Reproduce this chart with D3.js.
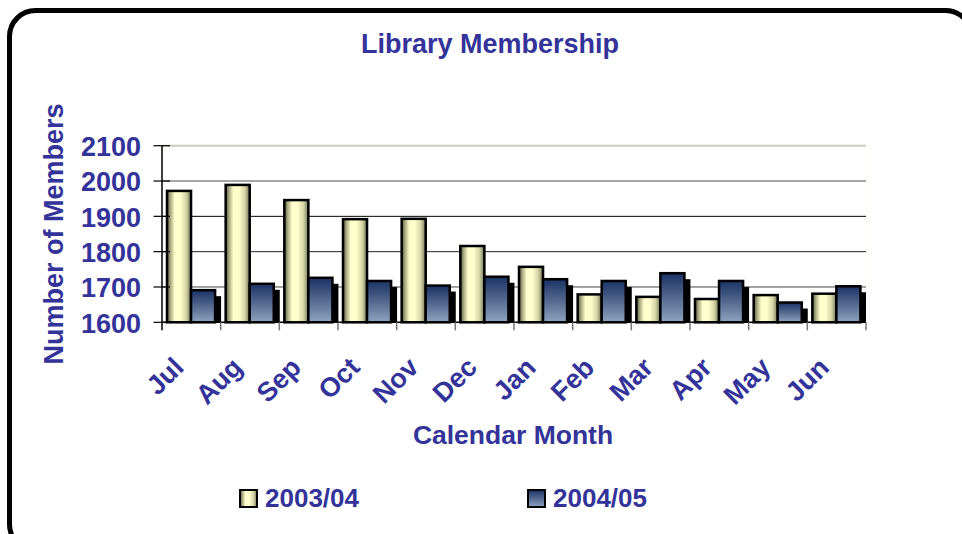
<!DOCTYPE html>
<html>
<head>
<meta charset="utf-8">
<script src="https://cdn.jsdelivr.net/npm/d3@7"></script>
<style>
  html, body { margin: 0; padding: 0; background: #fff; }
  svg { display: block; }
  text { font-family: "Liberation Sans", Arial, sans-serif; font-weight: bold; fill: #333399; }
</style>
</head>
<body>
<svg id="chart" width="962" height="534"></svg>
<script>
// ---- data ----
const months = ["Jul","Aug","Sep","Oct","Nov","Dec","Jan","Feb","Mar","Apr","May","Jun"];
const series2003 = [1972, 1989, 1946, 1892, 1893, 1816, 1757, 1679, 1672, 1666, 1677, 1681];
const series2004 = [1691, 1709, 1726, 1717, 1704, 1729, 1722, 1717, 1739, 1717, 1656, 1702];
const seriesNames = ["2003/04", "2004/05"];
const yTicks = [1600, 1700, 1800, 1900, 2000, 2100];
const titleText = "Library Membership";
const xTitle = "Calendar Month";
const yTitle = "Number of Members";

const svg = d3.select("#chart");

// outer rounded border
svg.append("rect")
  .attr("x", 9.5).attr("y", 10.5)
  .attr("width", 962).attr("height", 540)
  .attr("rx", 26).attr("ry", 26)
  .attr("fill", "#fff").attr("stroke", "#000").attr("stroke-width", 5);

// gradients
const defs = svg.append("defs");
const gY = defs.append("linearGradient").attr("id", "gradYellow")
  .attr("x1", "0%").attr("x2", "100%").attr("y1", "0%").attr("y2", "0%");
[[0, "#4f4f36"], [0.12, "#9e9e78"], [0.32, "#ffffcc"], [0.55, "#ffffcc"], [0.8, "#d4d4a6"], [1, "#737356"]]
  .forEach(([o, c]) => gY.append("stop").attr("offset", o).attr("stop-color", c));
const gB = defs.append("linearGradient").attr("id", "gradBlue")
  .attr("x1", "0%").attr("x2", "0%").attr("y1", "0%").attr("y2", "100%");
[[0, "#1a3266"], [0.5, "#54698f"], [1, "#8ea4bf"]]
  .forEach(([o, c]) => gB.append("stop").attr("offset", o).attr("stop-color", c));

// scales
const plotL = 162, plotR = 866, plotT = 145.7, plotB = 322.3;
const x = d3.scaleBand().domain(months).range([plotL, plotR]).paddingInner(0).paddingOuter(0);
const y = d3.scaleLinear().domain([1600, 2100]).range([plotB, plotT]);

// plot area right border (faint)
svg.append("line").attr("x1", plotR).attr("x2", plotR).attr("y1", plotT).attr("y2", plotB)
  .attr("stroke", "#fffff0").attr("stroke-width", 1);

// gridlines
const gridColors = { 1700: "#444", 1800: "#222", 1900: "#000", 2000: "#888", 2100: "#ccccbb" };
const gridWidths = { 1700: 1, 1800: 1, 1900: 1, 2000: 1.5, 2100: 2 };
svg.append("g").selectAll("line").data(yTicks.filter(d => d > 1600)).join("line")
  .attr("x1", plotL).attr("x2", plotR)
  .attr("y1", d => y(d)).attr("y2", d => y(d))
  .attr("stroke", d => gridColors[d]).attr("stroke-width", d => gridWidths[d]);

// bars
const bw = x.bandwidth();
const barOff = bw * 0.085, barW = bw * 0.41;
const gBars = svg.append("g");
gBars.selectAll("rect.shadow").data(months).join("rect").attr("class", "shadow")
  .attr("x", d => x(d) + barOff + barW + 6)
  .attr("y", (d, i) => y(series2004[i]) + 6)
  .attr("width", d => Math.min(barW, plotR - (x(d) + barOff + barW + 6)))
  .attr("height", (d, i) => Math.max(0, plotB - y(series2004[i]) - 6))
  .attr("fill", "#000");
gBars.selectAll("rect.s1").data(months).join("rect").attr("class", "s1")
  .attr("x", d => x(d) + barOff)
  .attr("y", (d, i) => y(series2003[i]))
  .attr("width", barW)
  .attr("height", (d, i) => plotB - y(series2003[i]))
  .attr("fill", "url(#gradYellow)").attr("stroke", "#000").attr("stroke-width", 2.5);
gBars.selectAll("rect.s2").data(months).join("rect").attr("class", "s2")
  .attr("x", d => x(d) + barOff + barW)
  .attr("y", (d, i) => y(series2004[i]))
  .attr("width", barW)
  .attr("height", (d, i) => plotB - y(series2004[i]))
  .attr("fill", "url(#gradBlue)").attr("stroke", "#000").attr("stroke-width", 2.5);

// x axis baseline and ticks
svg.append("line").attr("x1", plotL).attr("x2", plotR).attr("y1", plotB).attr("y2", plotB)
  .attr("stroke", "#000").attr("stroke-width", 1.5);
const boundaries = months.map(m => x(m) + bw);
svg.append("g").selectAll("line").data(boundaries).join("line")
  .attr("x1", d => d).attr("x2", d => d).attr("y1", plotB).attr("y2", plotB + 8)
  .attr("stroke", "#777").attr("stroke-width", 1.5);

// y axis
const yAxis = d3.axisLeft(y).tickValues(yTicks).tickSize(0).tickPadding(21).tickFormat(d3.format("d"));
const gy = svg.append("g").attr("transform", `translate(${plotL},0)`).call(yAxis);
gy.select(".domain").remove();
gy.selectAll("text").style("font-size", "27px").attr("fill", "#333399")
  .attr("dy", "0.36em").attr("font-family", "Liberation Sans, Arial, sans-serif").attr("font-weight", "bold");
svg.append("line").attr("x1", plotL).attr("x2", plotL).attr("y1", plotT).attr("y2", plotB + 8)
  .attr("stroke", "#000").attr("stroke-width", 1.5);
svg.append("g").selectAll("line").data(yTicks).join("line")
  .attr("x1", plotL - 8.5).attr("x2", plotL + 8)
  .attr("y1", d => y(d)).attr("y2", d => y(d))
  .attr("stroke", "#000").attr("stroke-width", 1.2);

// x labels (rotated)
svg.append("g").selectAll("text").data(months).join("text")
  .attr("transform", d => `translate(${x(d) + bw / 2 - 6},369) rotate(-45)`)
  .attr("text-anchor", "end")
  .style("font-size", "27px")
  .text(d => d);

// titles
svg.append("text").attr("x", 490).attr("y", 53).attr("text-anchor", "middle")
  .style("font-size", "27px").text(titleText);
svg.append("text").attr("x", 513).attr("y", 444).attr("text-anchor", "middle")
  .style("font-size", "26.5px").text(xTitle);
svg.append("text").attr("transform", "translate(63,234) rotate(-90)").attr("text-anchor", "middle")
  .style("font-size", "27px").text(yTitle);

// legend
const legendX = [240, 528];
const legendFills = ["url(#gradYellow)", "url(#gradBlue)"];
const lg = svg.append("g");
lg.selectAll("rect").data(seriesNames).join("rect")
  .attr("x", (d, i) => legendX[i]).attr("y", 490).attr("width", 17).attr("height", 17)
  .attr("fill", (d, i) => legendFills[i]).attr("stroke", "#000").attr("stroke-width", 2);
lg.selectAll("text").data(seriesNames).join("text")
  .attr("x", (d, i) => legendX[i] + 25).attr("y", 507)
  .style("font-size", "26px").text(d => d);
</script>
</body>
</html>
